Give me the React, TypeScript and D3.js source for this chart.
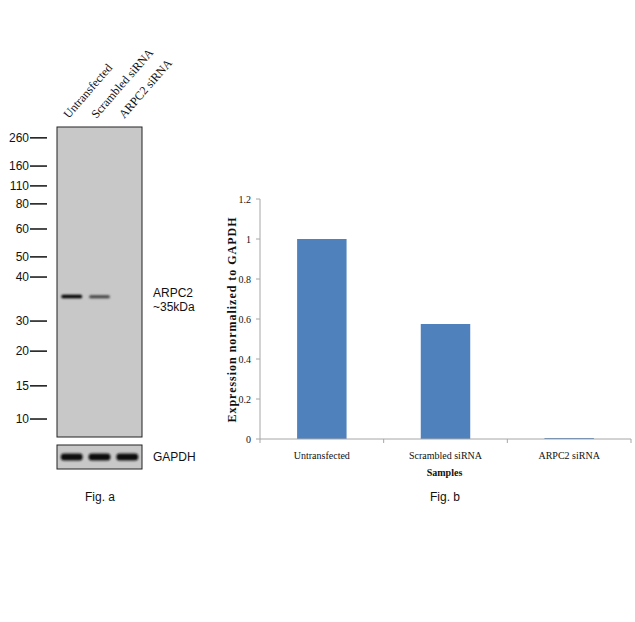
import React from 'react';
import * as d3 from 'd3';

// western blot (fig a)
const lanes = ['Untransfected', 'Scrambled siRNA', 'ARPC2 siRNA'];
const markerKda = [260, 160, 110, 80, 60, 50, 40, 30, 20, 15, 10];
// relative migration (0 = top of gel, 1 = bottom)
const markerRf = [0.035, 0.126, 0.19, 0.248, 0.329, 0.419, 0.484, 0.626, 0.723, 0.835, 0.942];
const arpc2Rf = 0.548;
const arpc2Intensity = [1, 0.55, 0];
const gapdhIntensity = [1, 1, 1];

// bar chart (fig b)
const samples = ['Untransfected', 'Scrambled siRNA', 'ARPC2 siRNA'];
const expression = [1, 0.575, 0.005];
const yTicks = [0, 0.2, 0.4, 0.6, 0.8, 1, 1.2];

const SANS = '"Liberation Sans", Arial, sans-serif';
const SERIF = '"Liberation Serif", "Times New Roman", serif';

const Blot = () => {
  const gel = { left: 57, right: 142, top: 127, bottom: 437 };
  const gapdh = { top: 445, bottom: 469 };
  const laneX = d3.scaleBand().domain(lanes).range([gel.left, gel.right]).paddingInner(0.18).paddingOuter(0.12);
  const rfY = d3.scaleLinear().domain([0, 1]).range([gel.top, gel.bottom]);
  const bandY = rfY(arpc2Rf);
  const gapdhY = (gapdh.top + gapdh.bottom) / 2;

  return (
    <g>
      <defs>
        <filter id="blur" x="-20%" y="-100%" width="140%" height="300%">
          <feGaussianBlur stdDeviation="0.8" />
        </filter>
      </defs>

      {/* lane labels */}
      {lanes.map((l) => (
        <text
          key={l}
          transform={`translate(${(laneX(l) as number) + laneX.bandwidth() / 2 - 3}, 119) rotate(-49)`}
          fontFamily={SERIF}
          fontSize={12}
          fill="#111"
        >
          {l}
        </text>
      ))}

      {/* main gel */}
      <rect x={gel.left} y={gel.top} width={gel.right - gel.left} height={gel.bottom - gel.top} fill="#c8c8c8" stroke="#222" strokeWidth={1} />
      {lanes.map((l, i) =>
        arpc2Intensity[i] > 0 ? (
          <rect
            key={l}
            x={(laneX(l) as number) + 1}
            y={bandY - 1.2 - arpc2Intensity[i]}
            width={laneX.bandwidth() - 2}
            height={2.4 + arpc2Intensity[i] * 1.2}
            rx={1.5}
            fill={d3.interpolateRgb('#8a8a8a', '#050505')(arpc2Intensity[i])}
            filter="url(#blur)"
          />
        ) : null
      )}

      {/* markers */}
      {markerKda.map((m, i) => (
        <g key={m} transform={`translate(0, ${rfY(markerRf[i])})`}>
          <line x1={30} x2={47} stroke="#111" strokeWidth={1.5} />
          <text x={29} dy="0.35em" textAnchor="end" fontFamily={SANS} fontSize={12} fill="#111">
            {m}
          </text>
        </g>
      ))}

      <text x={153} y={297} fontFamily={SANS} fontSize={12} fill="#111">ARPC2</text>
      <text x={153} y={311} fontFamily={SANS} fontSize={12} fill="#111">~35kDa</text>

      {/* GAPDH strip */}
      <rect x={gel.left} y={gapdh.top} width={gel.right - gel.left} height={gapdh.bottom - gapdh.top} fill="#c8c8c8" stroke="#222" strokeWidth={1} />
      {lanes.map((l, i) => (
        <rect
          key={l}
          x={(laneX(l) as number) + 0.5}
          y={gapdhY - 3.4}
          width={laneX.bandwidth() - 1}
          height={6.8}
          rx={3}
          fill={d3.interpolateRgb('#8a8a8a', '#101010')(gapdhIntensity[i])}
          filter="url(#blur)"
        />
      ))}
      <text x={153} y={gapdhY} dy="0.35em" fontFamily={SANS} fontSize={12} fill="#111">GAPDH</text>

      <text x={100} y={497} dy="0.35em" textAnchor="middle" fontFamily={SANS} fontSize={12} fill="#111">Fig. a</text>
    </g>
  );
};

const BarChart = () => {
  const left = 260, right = 631, top = 199, bottom = 439;
  const x = d3.scaleBand().domain(samples).range([left, right]).paddingInner(0.6).paddingOuter(0.3);
  const y = d3.scaleLinear().domain([0, 1.2]).range([bottom, top]);
  const step = (right - left) / samples.length;
  const axisColor = '#a6a6a6';

  return (
    <g>
      {/* y axis */}
      <line x1={left} x2={left} y1={top} y2={bottom} stroke={axisColor} />
      {yTicks.map((t) => (
        <g key={t} transform={`translate(0, ${y(t)})`}>
          <line x1={left - 4} x2={left} stroke={axisColor} />
          <text x={251} dy="0.35em" textAnchor="end" fontFamily={SERIF} fontSize={10} fill="#111">
            {d3.format('~g')(t)}
          </text>
        </g>
      ))}
      <text
        transform={`translate(236, ${(top + bottom) / 2 + 1}) rotate(-90)`}
        textAnchor="middle"
        fontFamily={SERIF}
        fontSize={12}
        fontWeight="bold"
        textLength={205}
        lengthAdjust="spacing"
        fill="#111"
      >
        Expression normalized to GAPDH
      </text>

      {/* bars */}
      {samples.map((s, i) => (
        <rect key={s} x={x(s)} y={y(expression[i])} width={x.bandwidth()} height={bottom - y(expression[i])} fill="#4f81bd" />
      ))}

      {/* x axis */}
      <line x1={left} x2={right} y1={bottom} y2={bottom} stroke={axisColor} />
      {d3.range(samples.length + 1).map((i) => (
        <line key={i} x1={left + i * step} x2={left + i * step} y1={bottom} y2={bottom + 4} stroke={axisColor} />
      ))}
      {samples.map((s) => (
        <text key={s} x={(x(s) as number) + x.bandwidth() / 2} y={455} dy="0.35em" textAnchor="middle" fontFamily={SERIF} fontSize={10} fill="#111">
          {s}
        </text>
      ))}
      <text x={(left + right) / 2 - 1} y={472} dy="0.35em" textAnchor="middle" fontFamily={SERIF} fontSize={10} fontWeight="bold" fill="#111">
        Samples
      </text>

      <text x={445} y={497} dy="0.35em" textAnchor="middle" fontFamily={SANS} fontSize={12} fill="#111">Fig. b</text>
    </g>
  );
};

export default function App() {
  return (
    <svg width={635} height={622} style={{ position: 'absolute', left: 0, top: 0, background: '#fff' }}>
      <Blot />
      <BarChart />
    </svg>
  );
}
